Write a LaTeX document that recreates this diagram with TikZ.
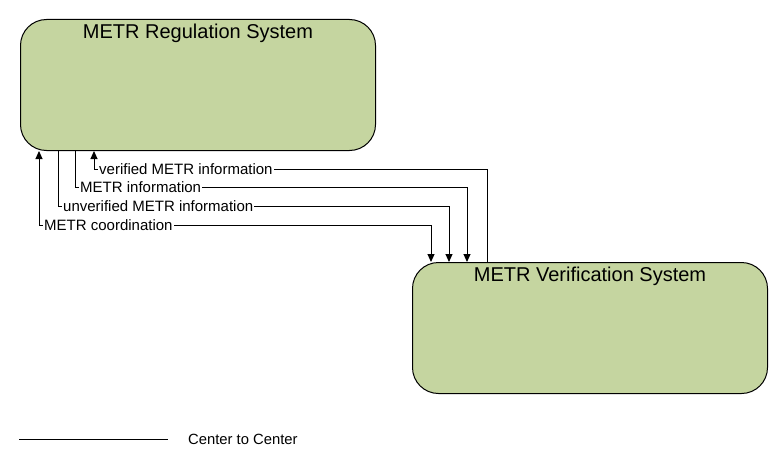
\documentclass[tikz,border=0pt]{standalone}
\usepackage{fontspec}
\setmainfont{Liberation Sans}
\usetikzlibrary{arrows.meta}
\definecolor{boxgreen}{RGB}{197,213,160}

\tikzset{
  sysbox/.style={draw, fill=boxgreen, rounded corners=26, line width=1pt,
    minimum width=355, minimum height=131, inner sep=0},
  systitle/.style={font=\fontsize{20}{22}\selectfont, inner sep=3, yshift=-2},
  flow/.style={line width=1pt, -{Triangle[length=8,width=7]}},
  flowboth/.style={line width=1pt, {Triangle[length=8,width=7]}-{Triangle[length=8,width=7]}},
  flowlbl/.style={anchor=west, fill=white, inner sep=1, xshift=4, font=\fontsize{15}{17}\selectfont}
}

\begin{document}
\begin{tikzpicture}[x=1pt,y=-1pt]
            \useasboundingbox (0,0) rectangle (783,468);
            % systems
            \node[sysbox, anchor=north west,
              label={[systitle, anchor=north]north:METR Regulation System}] (reg) at (20,19) {};
            \node[sysbox, anchor=north west,
              label={[systitle, anchor=north]north:METR Verification System}] (ver) at (412,262) {};
            % corners of the flows
            \coordinate (c1) at (94,169);  \coordinate (d1) at (487,169);
            \coordinate (c2) at (75,187);  \coordinate (d2) at (467,187);
            \coordinate (c3) at (58,206);  \coordinate (d3) at (449,206);
            \coordinate (c4) at (39,225);  \coordinate (d4) at (431,225);
            % flows
            \draw[flow] (ver.north -| d1) -- (d1) -- (c1) -- (reg.south -| c1);
            \draw[flow] (reg.south -| c2) -- (c2) -- (d2) -- (ver.north -| d2);
            \draw[flow] (reg.south -| c3) -- (c3) -- (d3) -- (ver.north -| d3);
            \draw[flowboth] (reg.south -| c4) -- (c4) -- (d4) -- (ver.north -| d4);
            \node[flowlbl] (l1) at (c1) {verified METR information};
            \node[flowlbl] (l2) at (c2) {METR information};
            \node[flowlbl] (l3) at (c3) {unverified METR information};
            \node[flowlbl] (l4) at (c4) {METR coordination};
            % legend
            \coordinate (lg1) at (19,439);
            \coordinate (lg2) at (168,439);
            \draw[line width=1pt] (lg1) -- (lg2);
            \node[anchor=west, inner sep=0, font=\fontsize{14.8}{17}\selectfont] (lgtext) at (188,439) {Center to Center};
        \end{tikzpicture}
\end{document}
